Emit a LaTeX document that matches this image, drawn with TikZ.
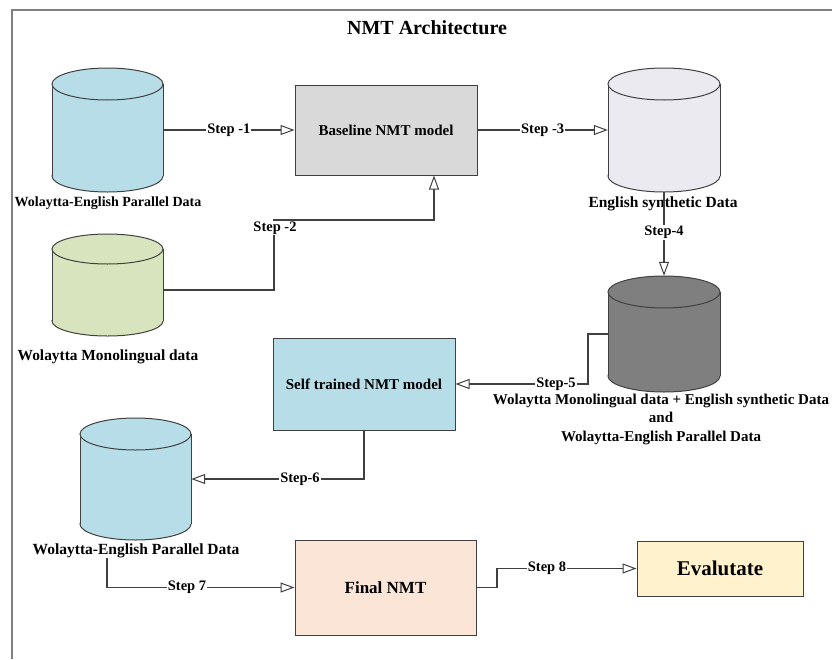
\documentclass[tikz,border=0pt]{standalone}
\usepackage{fontspec}
\setmainfont{Liberation Serif}
\usetikzlibrary{arrows.meta,calc}
\definecolor{linec}{HTML}{404040}
\definecolor{framec}{HTML}{808080}
\definecolor{cblue}{HTML}{B7DDE8}
\definecolor{cgreen}{HTML}{D7E4BD}
\definecolor{clav}{HTML}{ECEAF1}
\definecolor{cdark}{HTML}{7F7F7F}
\definecolor{cgray}{HTML}{D9D9D9}
\definecolor{cpeach}{HTML}{FBE5D6}
\definecolor{cyell}{HTML}{FFF2CC}
\newcommand\dbcyl[7]{% name, cx, rx, ytop, ybottom, ry, colour
  \filldraw[fill=#7, draw=linec, line width=1pt] (#2,#5) ellipse[x radius=#3pt, y radius=#6pt];
  \fill[#7] ({#2-#3},#4) rectangle ({#2+#3},#5);
  \draw[linec, line width=1pt] ({#2-#3},#4) -- ({#2-#3},#5) ({#2+#3},#4) -- ({#2+#3},#5);
  \filldraw[fill=#7, draw=linec, line width=1pt] (#2,#4) ellipse[x radius=#3pt, y radius=#6pt];
  \node[inner sep=0pt, minimum width={2*#3pt}, minimum height={(#5-#4+2*#6)*1pt}] (#1) at ({#2},{(#4+#5)/2}) {};
}
\newcommand\fsz[1]{\bfseries\fontsize{#1}{#1}\selectfont}
\begin{document}
\begin{tikzpicture}[x=1pt,y=-1pt,
  font=\fsz{15},
  conn/.style={draw=linec, line width=1.2pt, -{Triangle[length=14pt,width=10pt,fill=white,line width=1pt]}},
  lbl/.style={fill=white, inner sep=1pt, font=\fsz{14.5}},
  boxnode/.style={draw=linec, line width=1pt, inner sep=0pt, align=center},
  captext/.style={inner sep=0pt, align=center}]
\useasboundingbox (0,0) rectangle (832,659);
\fill[white] (0,0) rectangle (832,659);
\draw[framec, line width=1.3pt] (12,659) -- (12,10) -- (832,10);

\node[captext, font=\fsz{20}] (title) at (427,28) {NMT Architecture};

% cylinders
\dbcyl{cA}{107.5}{55.5}{84}{176}{16}{cblue}
\dbcyl{cB}{107.5}{55.5}{249}{321}{15}{cgreen}
\dbcyl{cC}{664}{56}{84}{176}{16}{clav}
\dbcyl{cD}{664}{56}{292}{376}{16}{cdark}
\dbcyl{cE}{135.5}{55.5}{434}{524}{16}{cblue}

\node[captext, font=\fsz{14}] (labA) at (108,203) {Wolaytta-English Parallel Data};
\node[captext, font=\fsz{15.4}] (labB) at (108,357) {Wolaytta Monolingual data};
\node[captext, font=\fsz{15.5}] (labC) at (663,204) {English synthetic Data};
\node[captext, font=\bfseries\fontsize{15}{18.5}\selectfont] (labD) at (661,419) {Wolaytta Monolingual data + English synthetic Data\\and\\Wolaytta-English Parallel Data};
\node[captext, font=\fsz{15.5}] (labE) at (136,551) {Wolaytta-English Parallel Data};

% boxes
\node[boxnode, fill=cgray, minimum width=182pt, minimum height=90pt] (base) at (386,130) {Baseline NMT model};
\node[boxnode, fill=cblue, minimum width=182pt, minimum height=92pt] (self) at (364,384) {Self trained NMT model};
\node[boxnode, fill=cpeach, minimum width=181pt, minimum height=95pt, font=\fsz{17}] (final) at (385.5,587.5) {Final NMT};
\node[boxnode, fill=cyell, minimum width=166pt, minimum height=55pt, font=\fsz{21}] (eval) at (720,568.5) {Evalutate};

% connectors
\draw[conn] (cA.east) -- node[lbl] {Step -1} (base.west);
\coordinate (k2) at (274,220);
\draw[conn] ([yshift=-5pt]cB.east) -| (k2) -| ([xshift=48pt]base.south);
\node[lbl] (s2) at (275,228) {Step -2};
\draw[conn] (base.east) -- node[lbl] {Step -3} (cC.west);
\draw[conn] (cC.south) -- node[lbl, pos=0.48] {Step-4} (cD.north);
\coordinate (k5) at (588,334);
\draw[conn] (cD.west) -- (k5) |- (self.east);
\node[lbl] (s5) at (556,384) {Step-5};
\draw[conn] (self.south) |- (cE.east);
\node[lbl] (s6) at (300,479) {Step-6};
\coordinate (k7) at (107,558);
\draw[conn] (k7) |- (final.west);
\node[lbl] (s7) at (187,587.5) {Step 7};
\coordinate (k8) at (497,587.5);
\draw[conn] (final.east) -- (k8) |- (eval.west);
\node[lbl] (s8) at (547,568.5) {Step 8};
\end{tikzpicture}
\end{document}
